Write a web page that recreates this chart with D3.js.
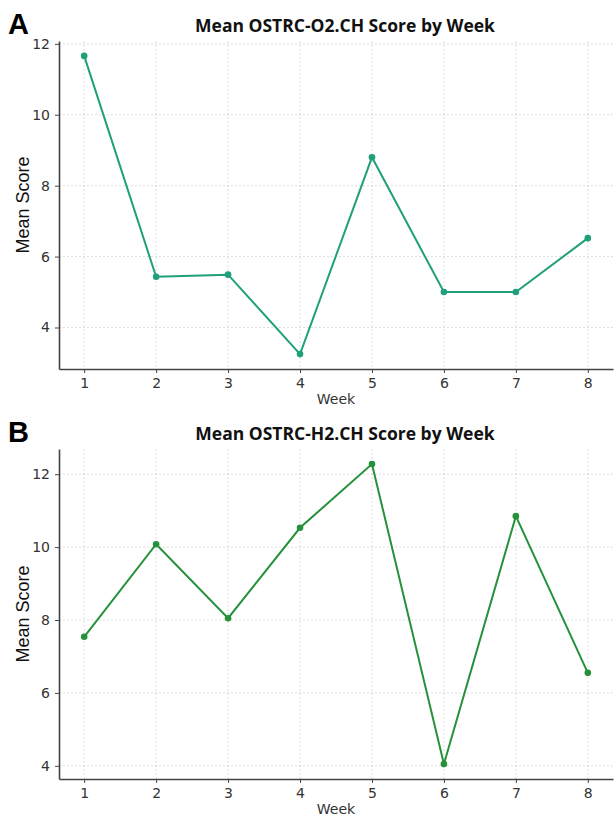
<!DOCTYPE html>
<html>
<head>
<meta charset="utf-8">
<script src="https://cdn.jsdelivr.net/npm/d3@7"></script>
<style>
  body { margin: 0; background: #fff; }
  svg { display: block; }
  .tick text { font-family: "DejaVu Sans", sans-serif; font-size: 14px; fill: #333; }
  .grid line { stroke: #d4d4d4; stroke-dasharray: 2,2; stroke-width: 0.8; }
</style>
</head>
<body>
<div class="chart"></div>
<script>
// Week numbers shared by both panels
var weeks = [1, 2, 3, 4, 5, 6, 7, 8];

// Panel A: mean OSTRC-O2.CH score
var scoresO2 = [11.66, 5.43, 5.49, 3.25, 8.80, 5.00, 5.00, 6.52];
// Panel B: mean OSTRC-H2.CH score
var scoresH2 = [7.54, 10.08, 8.05, 10.53, 12.28, 4.05, 10.85, 6.55];

var yTicksA = [4, 6, 8, 10, 12];
var yTicksB = [4, 6, 8, 10, 12];

var panels = [
  { letter: "A", title: "Mean OSTRC-O2.CH Score by Week", values: scoresO2, ticks: yTicksA,
    color: "#1fa07a", top: 41, bottom: 369 },
  { letter: "B", title: "Mean OSTRC-H2.CH Score by Week", values: scoresH2, ticks: yTicksB,
    color: "#26913b", top: 449, bottom: 779 }
];

var svgWidth = 614, svgHeight = 817;
var left = 59, right = 613;

var svg = d3.select(".chart").append("svg")
  .attr("width", svgWidth)
  .attr("height", svgHeight);

panels.forEach(function(p, i) {
  var g = svg.append("g");

  // matplotlib-style 5% padding on both axes
  var ext = d3.extent(p.values);
  var pad = (ext[1] - ext[0]) * 0.05;
  var y = d3.scaleLinear().domain([ext[0] - pad, ext[1] + pad]).range([p.bottom, p.top]);
  var x = d3.scaleLinear().domain([1 - 0.35, 8 + 0.35]).range([left, right]);

  // grid
  g.append("g").attr("class", "grid")
    .selectAll("line.v").data(weeks).enter().append("line")
    .attr("x1", function(d) { return x(d); }).attr("x2", function(d) { return x(d); })
    .attr("y1", p.top).attr("y2", p.bottom);
  g.append("g").attr("class", "grid")
    .selectAll("line.h").data(p.ticks).enter().append("line")
    .attr("x1", left).attr("x2", right)
    .attr("y1", function(d) { return y(d); }).attr("y2", function(d) { return y(d); });

  // axes
  var xAxis = g.append("g")
    .attr("transform", "translate(0," + p.bottom + ")")
    .call(d3.axisBottom(x).tickValues(weeks).tickFormat(d3.format("d")).tickSize(4).tickPadding(5).tickSizeOuter(0));
  var yAxis = g.append("g")
    .attr("transform", "translate(" + left + ",0)")
    .call(d3.axisLeft(y).tickValues(p.ticks).tickFormat(d3.format("d")).tickSize(4).tickPadding(5).tickSizeOuter(0));
  [xAxis, yAxis].forEach(function(a) {
    a.select(".domain").attr("stroke", "#444").attr("stroke-width", 1.6);
    a.selectAll(".tick line").attr("stroke", "#444");
  });

  // line + points
  var line = d3.line()
    .x(function(d, j) { return x(weeks[j]); })
    .y(function(d) { return y(d); });
  g.append("path").datum(p.values)
    .attr("d", line)
    .attr("fill", "none")
    .attr("stroke", p.color)
    .attr("stroke-width", 2);
  g.selectAll("circle").data(p.values).enter().append("circle")
    .attr("cx", function(d, j) { return x(weeks[j]); })
    .attr("cy", function(d) { return y(d); })
    .attr("r", 3.3)
    .attr("fill", p.color);

  // titles and labels
  g.append("text")
    .attr("x", 345).attr("y", p.top - 9)
    .attr("text-anchor", "middle")
    .style("font-family", "'Open Sans', sans-serif")
    .style("font-weight", "bold")
    .style("font-size", "17.5px")
    .attr("fill", "#111")
    .text(p.title);

  g.append("text")
    .attr("x", 8).attr("y", p.top - 7)
    .style("font-family", "'Liberation Sans', Arial, sans-serif")
    .style("font-weight", "bold")
    .style("font-size", "29px")
    .attr("fill", "#000")
    .text(p.letter);

  g.append("text")
    .attr("transform", "translate(29," + ((p.top + p.bottom) / 2) + ") rotate(-90)")
    .attr("text-anchor", "middle")
    .style("font-family", "'Liberation Sans', Arial, sans-serif")
    .style("font-size", "18px")
    .attr("fill", "#111")
    .text("Mean Score");

  g.append("text")
    .attr("x", 336).attr("y", p.bottom + 35)
    .attr("text-anchor", "middle")
    .style("font-family", "'DejaVu Sans', sans-serif")
    .style("font-size", "14px")
    .attr("fill", "#333")
    .text("Week");
});
</script>
</body>
</html>
